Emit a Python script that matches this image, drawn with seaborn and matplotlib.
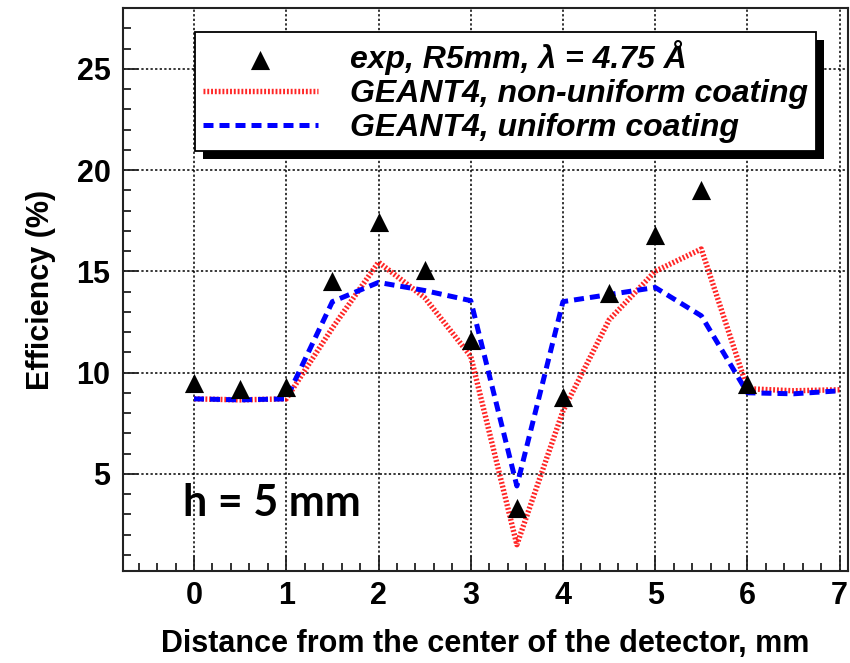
import numpy as np
import pandas as pd
import matplotlib
matplotlib.use('Agg')
import matplotlib.pyplot as plt
import matplotlib.patches as mpatches
import matplotlib.transforms as mtransforms
import seaborn as sns

# measured efficiency, R5mm, lambda = 4.75 A
x_exp = [0, 0.5, 1, 1.5, 2, 2.5, 3, 3.5, 4, 4.5, 5, 5.5, 6]
eff_exp = [9.5, 9.2, 9.3, 14.5, 17.45, 15.05, 11.6, 3.3, 8.8, 13.95, 16.8, 19.0, 9.45]

# GEANT4 simulations
x_sim = [0, 0.5, 1, 1.5, 2, 2.5, 3, 3.5, 4, 4.5, 5, 5.5, 6, 6.5, 7]
eff_nonuniform = [8.7, 8.65, 8.7, 12.2, 15.45, 13.7, 10.8, 1.5, 8.1, 12.6, 15.0, 16.1, 9.2, 9.1, 9.15]
eff_uniform = [8.7, 8.65, 8.7, 13.5, 14.45, 14.05, 13.55, 4.4, 13.5, 13.85, 14.2, 12.8, 9.0, 8.95, 9.1]

label_exp = 'exp, R5mm, λ = 4.75 Å'
label_nonuni = 'GEANT4, non-uniform coating'
label_uni = 'GEANT4, uniform coating'

sns.set_style("ticks")
plt.rcParams['font.family'] = ['Liberation Sans', 'DejaVu Sans']
plt.rcParams['text.color'] = 'black'
plt.rcParams['axes.labelcolor'] = 'black'
plt.rcParams['xtick.color'] = 'black'
plt.rcParams['ytick.color'] = 'black'

fig = plt.figure(figsize=(8.5, 6.63), dpi=100)
ax = fig.add_axes([123 / 850, 1 - 571 / 663, 725 / 850, 563 / 663])

# simulation curves
sns.lineplot(x=x_sim, y=eff_nonuniform, ax=ax, color='#ff0000', linewidth=3.9,
             linestyle=(0, (0.35, 0.35)), label=label_nonuni, alpha=0.85, zorder=3)
sns.lineplot(x=x_sim, y=eff_uniform, ax=ax, color='#0000ff', linewidth=3.6,
             linestyle=(0, (2.0, 1.2)), label=label_uni, zorder=3)
# data points
sns.scatterplot(x=x_exp, y=eff_exp, ax=ax, marker='^', s=190, color='black',
                edgecolor='black', linewidth=0, label=label_exp, zorder=4)

ax.set_xlim(-0.77, 7.09)
ax.set_ylim(0.2, 28)
ax.set_xticks(range(0, 8))
ax.set_xticks(np.arange(-0.6, 7.01, 0.2), minor=True)
ax.set_yticks([5, 10, 15, 20, 25])
ax.set_yticks(range(1, 28), minor=True)

ax.grid(True, which='major', color='black', linestyle=(0, (1.5, 1.5)), linewidth=1.1)
ax.tick_params(axis='both', which='both', direction='in', width=1.3, color='#222222',
               labelcolor='black')
ax.tick_params(axis='both', which='major', length=11, labelsize=22)
ax.tick_params(axis='both', which='minor', length=6)
ax.tick_params(axis='x', pad=7)
ax.tick_params(axis='y', pad=9)
for lab in ax.get_xticklabels() + ax.get_yticklabels():
    lab.set_fontweight('bold')
for sp in ax.spines.values():
    sp.set_linewidth(1.5)
    sp.set_color('#222222')

ax.set_xlabel('Distance from the center of the detector, mm', fontsize=22,
              fontweight='bold', labelpad=13)
ax.set_ylabel('Efficiency (%)', fontsize=22, fontweight='bold', labelpad=15)

ax.text(0.083, 0.098, 'h = 5 mm', transform=ax.transAxes, fontsize=31,
        fontweight='bold', family=['Lato', 'DejaVu Sans'], va='baseline', ha='left',
        color='black', zorder=5)

# legend: points first, then the two simulations
handles, labels = ax.get_legend_handles_labels()
order = [labels.index(label_exp), labels.index(label_nonuni), labels.index(label_uni)]
leg = ax.legend([handles[i] for i in order], [labels[i] for i in order],
                loc='upper left', bbox_to_anchor=(0.099, 0.957), frameon=True,
                fancybox=False, framealpha=1, edgecolor='black',
                prop={'size': 23, 'weight': 'bold', 'style': 'italic'},
                handlelength=3.6, handletextpad=1.0, labelspacing=0.12,
                borderpad=0.25, borderaxespad=0)
leg.get_frame().set_linewidth(1.3)
leg.set_zorder(6)

# drop shadow behind legend
fig.canvas.draw()
bb = leg.get_window_extent()
shadow = mpatches.Rectangle((bb.x0 + 8, bb.y0 - 8), bb.width, bb.height,
                            transform=mtransforms.IdentityTransform(),
                            facecolor='black', edgecolor='none', zorder=5.5,
                            clip_on=False)
ax.add_artist(shadow)

fig.savefig('out.png', dpi=100)
